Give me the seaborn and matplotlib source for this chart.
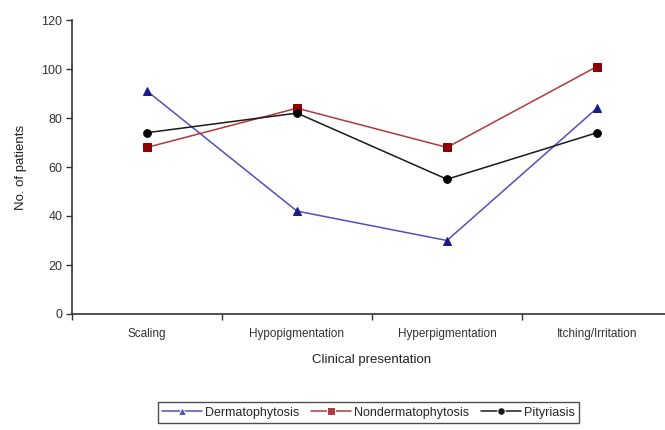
import pandas as pd
import matplotlib
matplotlib.use('Agg')
import matplotlib.pyplot as plt
import seaborn as sns

categories = ['Scaling', 'Hypopigmentation', 'Hyperpigmentation', 'Itching/Irritation']
dermatophytosis = [91, 42, 30, 84]
nondermatophytosis = [68, 84, 68, 101]
pityriasis = [74, 82, 55, 74]
series_names = ['Dermatophytosis', 'Nondermatophytosis', 'Pityriasis']
y_ticks = [0, 20, 40, 60, 80, 100, 120]

rows = []
for name, vals in zip(series_names, [dermatophytosis, nondermatophytosis, pityriasis]):
    for i, v in enumerate(vals):
        rows.append({'pos': i, 'patients': v, 'series': name})
df = pd.DataFrame(rows)

sns.set_style('white')
plt.rcParams['font.family'] = ['Liberation Sans', 'DejaVu Sans']

fig = plt.figure(figsize=(6.65, 4.3), dpi=100)
ax = fig.add_axes([72 / 665, 116 / 430, 600 / 665, 294 / 430])

line_colors = {'Dermatophytosis': '#5050c0', 'Nondermatophytosis': '#b03a3a', 'Pityriasis': '#1a1a1a'}
sns.lineplot(data=df, x='pos', y='patients', hue='series', style='series',
             palette=line_colors, markers=['^', 's', 'o'], dashes=False,
             markersize=5.5, linewidth=1.1, ax=ax)

# darker marker faces like the original
marker_colors = ['#1a1a8c', '#8b0000', '#000000']
for line, mc in zip(ax.lines[:3], marker_colors):
    line.set_markerfacecolor(mc)
    line.set_markeredgecolor(mc)

ax.set_xlim(-0.5, 3.5)
ax.set_ylim(0, 120)
ax.set_yticks(y_ticks)
ax.set_yticklabels([str(t) for t in y_ticks], fontsize=9, color='#333333')

# tick marks between categories, labels at category centres
ax.set_xticks([-0.5, 0.5, 1.5, 2.5, 3.5])
ax.set_xticklabels([])
ax.set_xticks(range(len(categories)), minor=True)
ax.set_xticklabels(categories, minor=True, fontsize=8.5, color='#333333')
ax.tick_params(axis='x', which='minor', bottom=True, length=0, pad=10)
ax.tick_params(axis='x', which='major', bottom=True, direction='out', length=4, width=1, color='#333333')
ax.tick_params(axis='y', left=True, direction='out', length=4, width=1, color='#333333', pad=3)

for s in ['top', 'right']:
    ax.spines[s].set_visible(False)
for s in ['left', 'bottom']:
    ax.spines[s].set_color('#333333')
    ax.spines[s].set_linewidth(1.2)

ax.set_xlabel('Clinical presentation', fontsize=9.5, color='#222222', labelpad=10)
ax.set_ylabel('No. of patients', fontsize=9.5, color='#222222', labelpad=10)

handles, labels = ax.get_legend_handles_labels()
ax.get_legend().remove()
leg = fig.legend(handles, ['Dermatophytosis', 'Nondermatophytosis', 'Pityriasis'],
                 loc='upper center', bbox_to_anchor=(0.554, 0.064), ncol=3,
                 fontsize=9, frameon=True, fancybox=False, edgecolor='#222222',
                 handlelength=3.2, handletextpad=0.2, columnspacing=1.0,
                 borderpad=0.35, borderaxespad=0)
leg.get_frame().set_linewidth(1.0)

fig.savefig('out.png', dpi=100, facecolor='white')
